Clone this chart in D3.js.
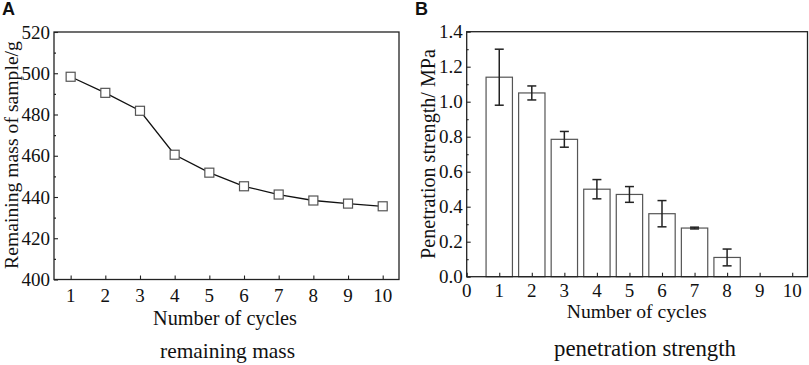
<!DOCTYPE html>
<html><head><meta charset="utf-8">
<script src="https://cdn.jsdelivr.net/npm/d3@7"></script>
<style>body{margin:0;background:#fff}svg{display:block}</style>
</head><body>
<svg id="c" width="809" height="365"></svg>
<script>
const cyclesA = [1,2,3,4,5,6,7,8,9,10];
const massA = [498.3, 490.5, 481.8, 460.5, 451.8, 445.2, 441.2, 438.3, 436.8, 435.5];
const yTicksA = [400,420,440,460,480,500,520];
const xTicksA = [1,2,3,4,5,6,7,8,9,10];

const cyclesB = [1,2,3,4,5,6,7,8];
const strengthB = [1.14, 1.05, 0.785, 0.50, 0.47, 0.36, 0.278, 0.11];
const errorB = [0.16, 0.04, 0.045, 0.055, 0.045, 0.075, 0.005, 0.048];
const yTicksB = [0.0,0.2,0.4,0.6,0.8,1.0,1.2,1.4];
const xTicksB = [0,1,2,3,4,5,6,7,8,9,10];

const svg = d3.select("#c");
const FONT = "'Liberation Serif','Times New Roman',serif";
const AX = "#222";
const TICKFS = 19;

function frame(g, l, t, r, b) {
  g.append("rect").attr("x", l).attr("y", t).attr("width", r-l).attr("height", b-t)
    .attr("fill","none").attr("stroke",AX).attr("stroke-width",1.3);
}
function fitText(g, str, cx, cy, width, rotate) {
  const t = g.append("text").attr("text-anchor","middle").attr("dy","0.35em")
    .attr("font-family",FONT).attr("font-size",20).attr("fill","#111").text(str);
  const w = t.node().getComputedTextLength();
  t.attr("font-size", 20*width/w);
  t.attr("transform", `translate(${cx},${cy})` + (rotate ? " rotate(-90)" : ""));
  return t;
}
function clean(s){ s.select(".domain").remove(); s.selectAll("line").attr("stroke",AX).attr("stroke-width",1.1); }

// ---------- Panel A ----------
{
  const L=54, T=32, R=399, B=279.5;
  const x = d3.scaleLinear().domain([0.52,10.47]).range([L,R]);
  const y = d3.scaleLinear().domain([400,520]).range([B,T]);
  const g = svg.append("g");
  frame(g,L,T,R,B);
  g.append("g").attr("transform",`translate(${L},0)`)
    .call(d3.axisRight(y).tickValues(yTicksA).tickSize(4).tickFormat("")).call(clean);
  g.append("g").attr("transform",`translate(${L},0)`)
    .call(d3.axisRight(y).tickValues(d3.range(410,520,20)).tickSize(2).tickFormat("")).call(clean);
  g.selectAll(".ylab").data(yTicksA).enter().append("text")
    .attr("x", L-4).attr("y", d=>y(d)).attr("dy","0.35em").attr("text-anchor","end")
    .attr("font-family",FONT).attr("font-size",TICKFS).attr("fill","#111").text(d=>d);
  g.append("g").attr("transform",`translate(0,${B})`)
    .call(d3.axisTop(x).tickValues(xTicksA).tickSize(4).tickFormat("")).call(clean);
  g.selectAll(".xlab").data(xTicksA).enter().append("text")
    .attr("x", d=>x(d)).attr("y", B+16).attr("dy","0.35em").attr("text-anchor","middle")
    .attr("font-family",FONT).attr("font-size",TICKFS).attr("fill","#111").text(d=>d);
  const line = d3.line().x((d,i)=>x(cyclesA[i])).y(d=>y(d));
  g.append("path").datum(massA).attr("d",line).attr("fill","none").attr("stroke","#111").attr("stroke-width",1.3);
  g.selectAll(".pt").data(massA).enter().append("rect")
    .attr("x",(d,i)=>x(cyclesA[i])-4.5).attr("y",d=>y(d)-4.5).attr("width",9).attr("height",9)
    .attr("fill","#fff").attr("stroke","#555").attr("stroke-width",1.2);
  fitText(g, "Number of cycles", 225, 318, 144);
  fitText(g, "remaining mass", 227.5, 350, 135);
  fitText(g, "Remaining mass of sample/g", 11, 155, 228, true);
  g.append("text").attr("x",2).attr("y",15).attr("font-family","'Liberation Sans',Arial,sans-serif")
    .attr("font-weight","bold").attr("font-size",18).attr("fill","#111").text("A");
}

// ---------- Panel B ----------
{
  const L=466.7, T=31.7, R=807.5, B=276.7;
  const x = d3.scaleLinear().domain([0,10.47]).range([L,R]);
  const y = d3.scaleLinear().domain([0,1.4]).range([B,T]);
  const g = svg.append("g");
  const bw = (x(0.81)-x(0));
  g.selectAll(".bar").data(strengthB).enter().append("rect")
    .attr("x",(d,i)=>x(cyclesB[i])-bw/2).attr("y",d=>y(d)).attr("width",bw).attr("height",d=>B-y(d))
    .attr("fill","#fff").attr("stroke","#555").attr("stroke-width",1.2);
  const eb = g.selectAll(".eb").data(strengthB).enter().append("g");
  eb.append("line").attr("x1",(d,i)=>x(cyclesB[i])).attr("x2",(d,i)=>x(cyclesB[i]))
    .attr("y1",(d,i)=>y(d+errorB[i])).attr("y2",(d,i)=>y(d-errorB[i])).attr("stroke","#222").attr("stroke-width",1.5);
  [1,-1].forEach(sg=>{
    eb.append("line").attr("x1",(d,i)=>x(cyclesB[i])-4.5).attr("x2",(d,i)=>x(cyclesB[i])+4.5)
      .attr("y1",(d,i)=>y(d+sg*errorB[i])).attr("y2",(d,i)=>y(d+sg*errorB[i])).attr("stroke","#222").attr("stroke-width",1.5);
  });
  frame(g,L,T,R,B);
  g.append("g").attr("transform",`translate(${L},0)`)
    .call(d3.axisRight(y).tickValues(yTicksB).tickSize(4).tickFormat("")).call(clean);
  g.append("g").attr("transform",`translate(${L},0)`)
    .call(d3.axisRight(y).tickValues(d3.range(0.1,1.4,0.2)).tickSize(2).tickFormat("")).call(clean);
  g.selectAll(".ylab").data(yTicksB).enter().append("text")
    .attr("x", L-4).attr("y", d=>y(d)).attr("dy","0.35em").attr("text-anchor","end")
    .attr("font-family",FONT).attr("font-size",TICKFS).attr("fill","#111").text(d=>d3.format(".1f")(d));
  g.append("g").attr("transform",`translate(0,${B})`)
    .call(d3.axisTop(x).tickValues(xTicksB).tickSize(4).tickFormat("")).call(clean);
  g.selectAll(".xlab").data(xTicksB).enter().append("text")
    .attr("x", d=>x(d)).attr("y", B+14).attr("dy","0.35em").attr("text-anchor","middle")
    .attr("font-family",FONT).attr("font-size",TICKFS).attr("fill","#111").text(d=>d);
  fitText(g, "Number of cycles", 636.7, 311, 140);
  fitText(g, "penetration strength", 645, 348, 182);
  fitText(g, "Penetration strength/ MPa", 428, 154, 210, true);
  g.append("text").attr("x",415).attr("y",15).attr("font-family","'Liberation Sans',Arial,sans-serif")
    .attr("font-weight","bold").attr("font-size",18).attr("fill","#111").text("B");
}
</script>
</body></html>
